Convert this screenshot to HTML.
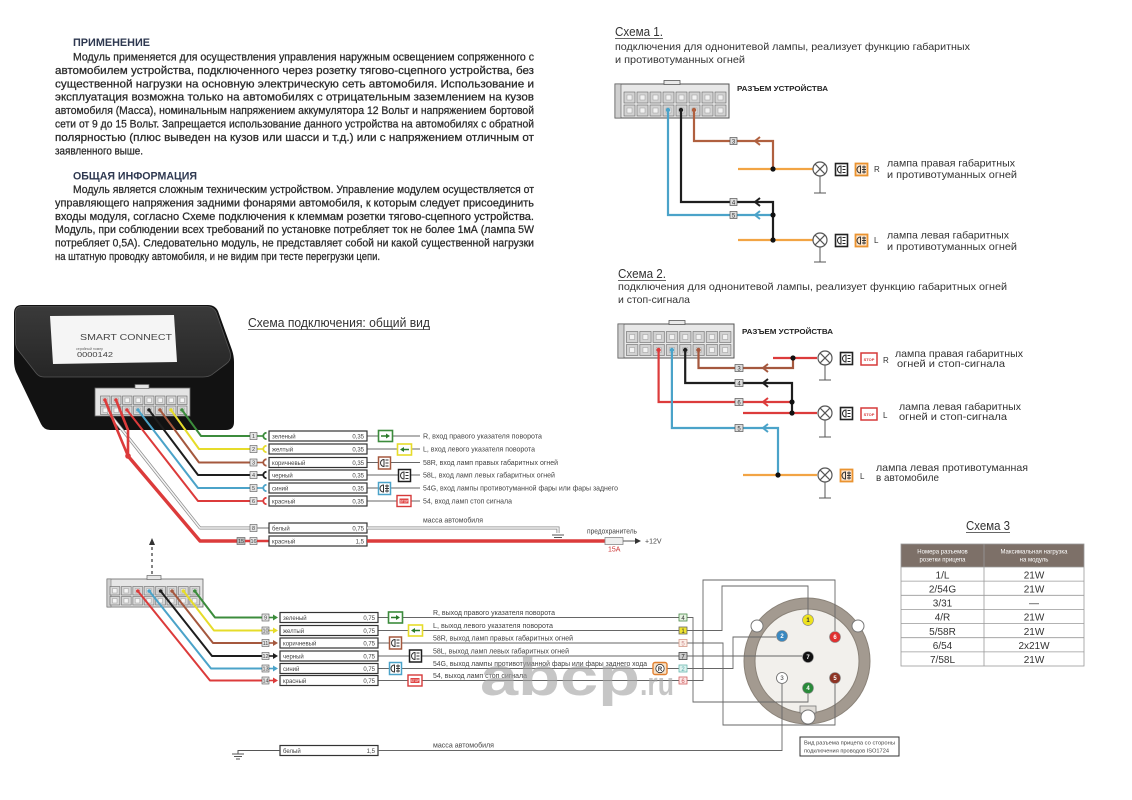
<!DOCTYPE html>
<html><head><meta charset="utf-8"><title>Smart Connect</title>
<style>
html,body{margin:0;padding:0;background:#fff;width:1132px;height:800px;overflow:hidden}
svg{display:block;font-family:"Liberation Sans","DejaVu Sans",sans-serif}
</style></head><body>
<svg width="1132" height="800" viewBox="0 0 1132 800" xmlns="http://www.w3.org/2000/svg">
<defs>
 <pattern id="c1" x="623.5" y="91.5" width="13" height="13" patternUnits="userSpaceOnUse">
  <rect x="0.5" y="0.5" width="11" height="11" fill="#d2d2d2" stroke="#666" stroke-width="0.6"/>
  <rect x="3.5" y="3.5" width="5" height="5" fill="#f2f2f2" stroke="#999" stroke-width="0.5"/>
 </pattern>
 <pattern id="c2" x="626" y="331" width="13.3" height="13" patternUnits="userSpaceOnUse">
  <rect x="0.5" y="0.5" width="11.3" height="11" fill="#d2d2d2" stroke="#666" stroke-width="0.6"/>
  <rect x="3.6" y="3.5" width="5" height="5" fill="#f2f2f2" stroke="#999" stroke-width="0.5"/>
 </pattern>
 <pattern id="c3" x="100" y="395.5" width="11" height="10" patternUnits="userSpaceOnUse">
  <rect x="0.5" y="0.5" width="9.5" height="8.5" fill="#d8d8d8" stroke="#666" stroke-width="0.6"/>
  <rect x="3" y="2.5" width="4.5" height="4.5" fill="#f4f4f4" stroke="#999" stroke-width="0.5"/>
 </pattern>
 <pattern id="c4" x="109.5" y="586" width="11.4" height="10" patternUnits="userSpaceOnUse">
  <rect x="0.5" y="0.5" width="9.8" height="8.5" fill="#d8d8d8" stroke="#666" stroke-width="0.6"/>
  <rect x="3" y="2.5" width="4.5" height="4.5" fill="#f4f4f4" stroke="#999" stroke-width="0.5"/>
 </pattern>
 <linearGradient id="topg" x1="0" y1="0" x2="0" y2="1">
  <stop offset="0" stop-color="#3a3a3a"/><stop offset="1" stop-color="#262626"/>
 </linearGradient>
 <g id="lamp"><circle r="7" fill="#fff" stroke="#555" stroke-width="1.2"/><path d="M-4.9,-4.9 L4.9,4.9 M-4.9,4.9 L4.9,-4.9" stroke="#555" stroke-width="1.2"/></g>
 <g id="side"><rect x="0.5" y="0.5" width="12" height="12" fill="#fff" stroke="currentColor" stroke-width="1.5"/><path d="M6,3 A3.5,3.5 0 0 0 6,10 Z" fill="none" stroke="#333" stroke-width="1"/><path d="M7.5,3.5 H10.5 M7.5,6.5 H10.5 M7.5,9.5 H10.5" stroke="#333" stroke-width="1"/></g>
 <g id="fog"><rect x="0.5" y="0.5" width="12" height="12" fill="#fff" stroke="currentColor" stroke-width="1.5"/><path d="M5.5,3 A3.5,3.5 0 0 0 5.5,10 Z" fill="none" stroke="#333" stroke-width="1"/><path d="M7,4 H11 M7,6.5 H11 M7,9 H11 M9,2.5 V10.5" stroke="#333" stroke-width="0.9"/></g>
 <g id="fogO"><rect x="0.5" y="0.5" width="12" height="12" fill="#fde7cf" stroke="#ea9330" stroke-width="1.8"/><path d="M5.5,3 A3.5,3.5 0 0 0 5.5,10 Z" fill="none" stroke="#333" stroke-width="1"/><path d="M7,4 H11 M7,6.5 H11 M7,9 H11 M9,2.5 V10.5" stroke="#333" stroke-width="0.9"/></g>
 <g id="sideK"><rect x="0.5" y="0.5" width="12" height="12" fill="#fff" stroke="#222" stroke-width="1.6"/><path d="M6,3 A3.5,3.5 0 0 0 6,10 Z" fill="none" stroke="#222" stroke-width="1"/><path d="M7.5,3.5 H10.5 M7.5,6.5 H10.5 M7.5,9.5 H10.5" stroke="#222" stroke-width="1"/></g>
 <g id="turnR"><rect x="0.5" y="0.5" width="14" height="11" fill="#fff" stroke="currentColor" stroke-width="1.6"/><path d="M3,6 H9" stroke="#2a7a2a" stroke-width="1.5"/><path d="M8,3.5 L12,6 L8,8.5 Z" fill="#2a7a2a"/></g>
 <g id="turnL"><rect x="0.5" y="0.5" width="14" height="11" fill="#fff" stroke="currentColor" stroke-width="1.6"/><path d="M6,6 H12" stroke="#2a7a2a" stroke-width="1.5"/><path d="M7,3.5 L3,6 L7,8.5 Z" fill="#2a7a2a"/></g>
 <path id="chev" d="M5,-4 L0,0 L5,4" fill="none" stroke="currentColor" stroke-width="2"/>
 <path id="cup" d="M3.5,-3.2 A3.2,3.2 0 0 0 3.5,3.2" fill="none" stroke="currentColor" stroke-width="1.8"/>
 <path id="tri" d="M0,-3 L5,0 L0,3 Z" fill="currentColor"/>
</defs>

<!-- ===== Top text ===== -->
<g font-size="11" fill="#2a2a2a" stroke="#2a2a2a" stroke-width="0.25">
<text x="73" y="46" font-weight="bold" fill="#2e3850" stroke="none" textLength="77" lengthAdjust="spacingAndGlyphs">ПРИМЕНЕНИЕ</text>
<text x="73" y="60.5" textLength="461" lengthAdjust="spacingAndGlyphs">Модуль применяется для осуществления управления наружным освещением сопряженного с</text>
<text x="55" y="73.9" textLength="479" lengthAdjust="spacingAndGlyphs">автомобилем устройства, подключенного через розетку тягово-сцепного устройства, без</text>
<text x="55" y="87.3" textLength="479" lengthAdjust="spacingAndGlyphs">существенной нагрузки на основную электрическую сеть автомобиля. Использование и</text>
<text x="55" y="100.7" textLength="479" lengthAdjust="spacingAndGlyphs">эксплуатация возможна только на автомобилях с отрицательным заземлением на кузов</text>
<text x="55" y="114.1" textLength="479" lengthAdjust="spacingAndGlyphs">автомобиля (Масса), номинальным напряжением аккумулятора 12 Вольт и напряжением бортовой</text>
<text x="55" y="127.5" textLength="479" lengthAdjust="spacingAndGlyphs">сети от 9 до 15 Вольт. Запрещается использование данного устройства на автомобилях с обратной</text>
<text x="55" y="140.9" textLength="479" lengthAdjust="spacingAndGlyphs">полярностью (плюс выведен на кузов или шасси и т.д.) или с напряжением отличным от</text>
<text x="55" y="154.3" textLength="88" lengthAdjust="spacingAndGlyphs">заявленного выше.</text>
<text x="73" y="179.5" font-weight="bold" fill="#2e3850" stroke="none" textLength="124" lengthAdjust="spacingAndGlyphs">ОБЩАЯ ИНФОРМАЦИЯ</text>
<text x="73" y="193" textLength="461" lengthAdjust="spacingAndGlyphs">Модуль является сложным техническим устройством. Управление модулем осуществляется от</text>
<text x="55" y="206.4" textLength="479" lengthAdjust="spacingAndGlyphs">управляющего напряжения задними фонарями автомобиля, к которым следует присоединить</text>
<text x="55" y="219.8" textLength="479" lengthAdjust="spacingAndGlyphs">входы модуля, согласно Схеме подключения к клеммам розетки тягово-сцепного устройства.</text>
<text x="55" y="233.2" textLength="479" lengthAdjust="spacingAndGlyphs">Модуль, при соблюдении всех требований по установке потребляет ток не более 1мА (лампа 5W</text>
<text x="55" y="246.6" textLength="479" lengthAdjust="spacingAndGlyphs">потребляет 0,5А). Следовательно модуль, не представляет собой ни какой существенной нагрузки</text>
<text x="55" y="260" textLength="325" lengthAdjust="spacingAndGlyphs">на штатную проводку автомобиля, и не видим при тесте перегрузки цепи.</text>
</g>

<!-- ===== Scheme 1 ===== -->
<g fill="#333">
<text x="615" y="36" font-size="13" textLength="48" lengthAdjust="spacingAndGlyphs">Схема 1.</text>
<line x1="615" y1="38.5" x2="663" y2="38.5" stroke="#333" stroke-width="0.8"/>
<text x="615" y="50" font-size="10.5" textLength="355" lengthAdjust="spacingAndGlyphs">подключения для однонитевой лампы, реализует функцию габаритных</text>
<text x="615" y="63" font-size="10.5" textLength="130" lengthAdjust="spacingAndGlyphs">и противотуманных огней</text>
</g>
<rect x="615" y="84" width="114" height="34" fill="#e8e8e8" stroke="#555" stroke-width="1"/>
<rect x="615" y="84" width="6" height="34" fill="#cfcfcf" stroke="#555" stroke-width="0.6"/>
<rect x="664" y="80.5" width="16" height="4" fill="#e8e8e8" stroke="#555" stroke-width="0.8"/>
<rect x="623.5" y="91.5" width="104" height="26" fill="url(#c1)"/>
<text x="737" y="91" font-size="7.5" font-weight="bold" fill="#222" textLength="91" lengthAdjust="spacingAndGlyphs">РАЗЪЕМ УСТРОЙСТВА</text>
<g fill="none" stroke-width="2.2" stroke-linejoin="miter">
 <path d="M694,110 V141 H730 M737,141 H773 V169" stroke="#b0603f"/>
 <path d="M681,110 V202 H730 M737,202 H773 V240" stroke="#1e1e1e"/>
 <path d="M668,110 V215 H730 M737,215 H773" stroke="#4ba3c9"/>
 <path d="M738,169 H813" stroke="#f2a444"/>
 <path d="M738,240 H813" stroke="#f2a444"/>
</g>
<circle cx="694" cy="110" r="2.2" fill="#b0603f"/><circle cx="681" cy="110" r="2.2" fill="#1e1e1e"/><circle cx="668" cy="110" r="2.2" fill="#4ba3c9"/>
<use href="#chev" x="755" y="141" style="color:#b0603f"/>
<use href="#chev" x="755" y="202" style="color:#1e1e1e"/>
<use href="#chev" x="755" y="215" style="color:#4ba3c9"/>
<g font-size="6" text-anchor="middle" fill="#333">
 <rect x="730" y="137.5" width="7" height="7" fill="#ddd" stroke="#555" stroke-width="0.7"/><text x="733.5" y="143.3">3</text>
 <rect x="730" y="198.5" width="7" height="7" fill="#ddd" stroke="#555" stroke-width="0.7"/><text x="733.5" y="204.3">4</text>
 <rect x="730" y="211.5" width="7" height="7" fill="#ddd" stroke="#555" stroke-width="0.7"/><text x="733.5" y="217.3">5</text>
</g>
<circle cx="773" cy="169" r="2.6" fill="#111"/><circle cx="773" cy="215" r="2.6" fill="#111"/><circle cx="773" cy="240" r="2.6" fill="#111"/>
<path d="M820,176 V193 M814,193 H826 M820,247 V262 M814,262 H826" stroke="#555" stroke-width="1"/>
<use href="#lamp" x="820" y="169"/><use href="#lamp" x="820" y="240"/>
<use href="#sideK" x="835" y="163"/><use href="#fogO" x="855" y="163"/>
<use href="#sideK" x="835" y="234"/><use href="#fogO" x="855" y="234"/>
<g fill="#333" font-size="10.5">
<text x="874" y="172" font-size="8">R</text>
<text x="887" y="166.5" textLength="128" lengthAdjust="spacingAndGlyphs">лампа правая габаритных</text>
<text x="887" y="178" textLength="130" lengthAdjust="spacingAndGlyphs">и противотуманных огней</text>
<text x="874" y="243" font-size="8">L</text>
<text x="887" y="238.5" textLength="122" lengthAdjust="spacingAndGlyphs">лампа левая габаритных</text>
<text x="887" y="250" textLength="130" lengthAdjust="spacingAndGlyphs">и противотуманных огней</text>
</g>

<!-- ===== Scheme 2 ===== -->
<g fill="#333">
<text x="618" y="278" font-size="13" textLength="48" lengthAdjust="spacingAndGlyphs">Схема 2.</text>
<line x1="618" y1="280.5" x2="666" y2="280.5" stroke="#333" stroke-width="0.8"/>
<text x="618" y="290" font-size="10.5" textLength="389" lengthAdjust="spacingAndGlyphs">подключения для однонитевой лампы, реализует функцию габаритных огней</text>
<text x="618" y="303" font-size="10.5" textLength="72" lengthAdjust="spacingAndGlyphs">и стоп-сигнала</text>
</g>
<rect x="618" y="324" width="116" height="34" fill="#e8e8e8" stroke="#555" stroke-width="1"/>
<rect x="618" y="324" width="6" height="34" fill="#cfcfcf" stroke="#555" stroke-width="0.6"/>
<rect x="669" y="320.5" width="16" height="4" fill="#e8e8e8" stroke="#555" stroke-width="0.8"/>
<rect x="626" y="331" width="106.4" height="26" fill="url(#c2)"/>
<text x="742" y="334" font-size="7.5" font-weight="bold" fill="#222" textLength="91" lengthAdjust="spacingAndGlyphs">РАЗЪЕМ УСТРОЙСТВА</text>
<g fill="none" stroke-width="2.2">
 <path d="M773,358 H817" stroke="#dc3b3b"/>
 <path d="M698.5,350 V368 H735 M743,368 H793 V358" stroke="#a5583e"/>
 <path d="M685.2,350 V383 H735 M743,383 H792 V413" stroke="#1e1e1e"/>
 <path d="M658.6,350 V402 H735 M743,402 H792" stroke="#dc3b3b"/>
 <path d="M743,413 H817" stroke="#dc3b3b"/>
 <path d="M671.9,350 V428 H735 M743,428 H778 V475" stroke="#4ba3c9"/>
 <path d="M743,475 H817" stroke="#f2a444"/>
</g>
<circle cx="698.5" cy="350" r="2.2" fill="#a5583e"/><circle cx="685.2" cy="350" r="2.2" fill="#1e1e1e"/><circle cx="658.6" cy="350" r="2.2" fill="#dc3b3b"/><circle cx="671.9" cy="350" r="2.2" fill="#4ba3c9"/>
<use href="#chev" x="763" y="368" style="color:#a5583e"/>
<use href="#chev" x="763" y="383" style="color:#1e1e1e"/>
<use href="#chev" x="763" y="402" style="color:#dc3b3b"/>
<use href="#chev" x="763" y="428" style="color:#4ba3c9"/>
<g font-size="6" text-anchor="middle" fill="#333">
 <rect x="735" y="364.5" width="8" height="7" fill="#ddd" stroke="#555" stroke-width="0.7"/><text x="739" y="370.3">3</text>
 <rect x="735" y="379.5" width="8" height="7" fill="#ddd" stroke="#555" stroke-width="0.7"/><text x="739" y="385.3">4</text>
 <rect x="735" y="398.5" width="8" height="7" fill="#ddd" stroke="#555" stroke-width="0.7"/><text x="739" y="404.3">6</text>
 <rect x="735" y="424.5" width="8" height="7" fill="#ddd" stroke="#555" stroke-width="0.7"/><text x="739" y="430.3">5</text>
</g>
<circle cx="793" cy="358" r="2.6" fill="#111"/><circle cx="792" cy="402" r="2.6" fill="#111"/><circle cx="792" cy="413" r="2.6" fill="#111"/><circle cx="778" cy="475" r="2.6" fill="#111"/>
<path d="M825,365 V380 M819,380 H831 M825,420 V437 M819,437 H831 M825,482 V498 M819,498 H831" stroke="#555" stroke-width="1"/>
<use href="#lamp" x="825" y="358"/><use href="#lamp" x="825" y="413"/><use href="#lamp" x="825" y="475"/>
<use href="#sideK" x="840" y="352"/><use href="#sideK" x="840" y="407"/><use href="#fogO" x="840" y="469"/>
<g><rect x="861" y="353" width="16" height="12" fill="#fff" stroke="#d63a3a" stroke-width="1.5"/><text x="869" y="361" font-size="4" fill="#d63a3a" text-anchor="middle" font-weight="bold">STOP</text></g>
<g><rect x="861" y="408" width="16" height="12" fill="#fff" stroke="#d63a3a" stroke-width="1.5"/><text x="869" y="416" font-size="4" fill="#d63a3a" text-anchor="middle" font-weight="bold">STOP</text></g>
<g fill="#333" font-size="10.5">
<text x="883" y="363" font-size="8">R</text>
<text x="895" y="357" textLength="128" lengthAdjust="spacingAndGlyphs">лампа правая габаритных</text>
<text x="897" y="367" textLength="108" lengthAdjust="spacingAndGlyphs">огней и стоп-сигнала</text>
<text x="883" y="418" font-size="8">L</text>
<text x="899" y="410" textLength="122" lengthAdjust="spacingAndGlyphs">лампа левая габаритных</text>
<text x="899" y="420" textLength="108" lengthAdjust="spacingAndGlyphs">огней и стоп-сигнала</text>
<text x="860" y="479" font-size="8">L</text>
<text x="876" y="471" textLength="152" lengthAdjust="spacingAndGlyphs">лампа левая противотуманная</text>
<text x="876" y="481" textLength="63" lengthAdjust="spacingAndGlyphs">в автомобиле</text>
</g>

<!-- ===== Main diagram title ===== -->
<text x="248" y="327" font-size="13" fill="#333" textLength="182" lengthAdjust="spacingAndGlyphs">Схема подключения: общий вид</text>
<line x1="248" y1="329.5" x2="430" y2="329.5" stroke="#333" stroke-width="0.8"/>

<!-- Device box -->
<path d="M22,305 H208 Q215,305 218,311 L232,350 Q234,356 234,362 V422 Q234,430 226,430 H50 Q44,430 41,424 L16,372 Q14,367 14,360 V313 Q14,305 22,305 Z" fill="#121212"/>
<path d="M22,306.5 H207 Q213,306.5 216,312 L230,352 Q232,360 226,364 L214,373 Q210,377 203,377 H44 Q39,377 36,373 L18,350 Q15.5,347 15.5,342 V313 Q15.5,306.5 22,306.5 Z" fill="url(#topg)" stroke="#555" stroke-width="0.8"/>
<polygon points="50,316 174,315 177,362 53,364" fill="#f5f5f5"/>
<text x="80" y="340" font-size="8.5" fill="#444" textLength="92" lengthAdjust="spacingAndGlyphs">SMART CONNECT</text>
<text x="76" y="350" font-size="3.5" fill="#666">серийный номер</text>
<text x="77" y="357" font-size="7" fill="#444" textLength="36" lengthAdjust="spacingAndGlyphs">0000142</text>
<rect x="95" y="388" width="95" height="28" fill="#e4e4e4" stroke="#666" stroke-width="0.8"/>
<rect x="135" y="384.5" width="14" height="4" fill="#e4e4e4" stroke="#666" stroke-width="0.7"/>
<rect x="100" y="395.5" width="88" height="20" fill="url(#c3)"/>

<!-- wires from device -->
<g fill="none" stroke-width="2" stroke-linejoin="round">
 <path d="M108,412 L200,528 H250" stroke="#888" stroke-width="3"/>
 <path d="M108,412 L200,528 H250" stroke="#f4f4f4" stroke-width="1.6"/>
 <path d="M182,410 L201,436 H250" stroke="#3c8c3c"/>
 <path d="M171,410 L199,449 H250" stroke="#e6dc2a"/>
 <path d="M160,410 L199,462.5 H250" stroke="#a5583e"/>
 <path d="M149,410 L198,475 H250" stroke="#1e1e1e"/>
 <path d="M138,410 L198,488 H250" stroke="#4ba3c9"/>
 <path d="M127,410 L198,501 H250" stroke="#dc3b3b"/>
 <path d="M105,400 L118,432 L128,456 M116,400 L128,430 L128,456" stroke="#dc3b3b" stroke-width="2.6"/>
 <path d="M128,456 L200,541 H237" stroke="#dc3b3b" stroke-width="3.4"/>
</g>
<circle cx="128" cy="456" r="2.8" fill="#dc3b3b"/>
<circle cx="182" cy="410" r="1.8" fill="#3c8c3c"/><circle cx="171" cy="410" r="1.8" fill="#e6dc2a"/><circle cx="160" cy="410" r="1.8" fill="#a5583e"/><circle cx="149" cy="410" r="1.8" fill="#1e1e1e"/><circle cx="138" cy="410" r="1.8" fill="#4ba3c9"/><circle cx="127" cy="410" r="1.8" fill="#dc3b3b"/><circle cx="105" cy="400" r="1.8" fill="#dc3b3b"/><circle cx="116" cy="400" r="1.8" fill="#dc3b3b"/>

<!-- upper rows -->
<g font-size="6" fill="#444">
 <g stroke-width="1.6">
  <path d="M257,436 H263" stroke="#3c8c3c"/><path d="M257,449 H263" stroke="#e6dc2a"/><path d="M257,462.5 H263" stroke="#a5583e"/><path d="M257,475 H263" stroke="#1e1e1e"/><path d="M257,488 H263" stroke="#4ba3c9"/><path d="M257,501 H263" stroke="#dc3b3b"/>
 </g>
 <use href="#cup" x="263" y="436" style="color:#3c8c3c"/><use href="#cup" x="263" y="449" style="color:#e6dc2a"/><use href="#cup" x="263" y="462.5" style="color:#a5583e"/><use href="#cup" x="263" y="475" style="color:#1e1e1e"/><use href="#cup" x="263" y="488" style="color:#4ba3c9"/><use href="#cup" x="263" y="501" style="color:#dc3b3b"/>
 <g text-anchor="middle" font-size="5.5">
  <rect x="250" y="432.5" width="7" height="7" fill="#e6e6e6" stroke="#555" stroke-width="0.6"/><text x="253.5" y="438.2">1</text>
  <rect x="250" y="445.5" width="7" height="7" fill="#e6e6e6" stroke="#555" stroke-width="0.6"/><text x="253.5" y="451.2">2</text>
  <rect x="250" y="459" width="7" height="7" fill="#e6e6e6" stroke="#555" stroke-width="0.6"/><text x="253.5" y="464.7">3</text>
  <rect x="250" y="471.5" width="7" height="7" fill="#e6e6e6" stroke="#555" stroke-width="0.6"/><text x="253.5" y="477.2">4</text>
  <rect x="250" y="484.5" width="7" height="7" fill="#e6e6e6" stroke="#555" stroke-width="0.6"/><text x="253.5" y="490.2">5</text>
  <rect x="250" y="497.5" width="7" height="7" fill="#e6e6e6" stroke="#555" stroke-width="0.6"/><text x="253.5" y="503.2">6</text>
  <rect x="250" y="524.5" width="7" height="7" fill="#e6e6e6" stroke="#555" stroke-width="0.6"/><text x="253.5" y="530.2">8</text>
  <rect x="237" y="537.5" width="8" height="7" fill="#bbb" stroke="#555" stroke-width="0.6"/><text x="241" y="543.2">15</text>
  <rect x="250" y="537.5" width="7" height="7" fill="#e6e6e6" stroke="#555" stroke-width="0.6"/><text x="253.5" y="543.2">16</text>
 </g>
 <path d="M245,541 H250 M257,541 H269" stroke="#dc3b3b" stroke-width="2.4"/>
 <path d="M257,528 H269" stroke="#888" stroke-width="1.2"/>
 <g stroke="#666" stroke-width="0.9">
  <path d="M367,436 H420 M367,449 H420 M367,462.5 H420 M367,475 H420 M367,488 H420 M367,501 H420"/>
 </g>
 <g fill="#fff" stroke="#333" stroke-width="1.2">
  <rect x="269" y="431" width="98" height="10"/><rect x="269" y="444" width="98" height="10"/><rect x="269" y="457.5" width="98" height="10"/><rect x="269" y="470" width="98" height="10"/><rect x="269" y="483" width="98" height="10"/><rect x="269" y="496" width="98" height="10"/><rect x="269" y="523" width="98" height="10"/><rect x="269" y="536" width="98" height="10"/>
 </g>
 <text x="272" y="438.3">зеленый</text><text x="364" y="438.3" text-anchor="end">0,35</text>
 <text x="272" y="451.3">желтый</text><text x="364" y="451.3" text-anchor="end">0,35</text>
 <text x="272" y="464.8">коричневый</text><text x="364" y="464.8" text-anchor="end">0,35</text>
 <text x="272" y="477.3">черный</text><text x="364" y="477.3" text-anchor="end">0,35</text>
 <text x="272" y="490.3">синий</text><text x="364" y="490.3" text-anchor="end">0,35</text>
 <text x="272" y="503.3">красный</text><text x="364" y="503.3" text-anchor="end">0,35</text>
 <text x="272" y="530.3">белый</text><text x="364" y="530.3" text-anchor="end">0,75</text>
 <text x="272" y="543.3">красный</text><text x="364" y="543.3" text-anchor="end">1,5</text>
</g>
<use href="#turnR" x="378" y="430" style="color:#3c8c3c"/>
<use href="#turnL" x="397" y="443.5" style="color:#e6dc2a"/>
<use href="#side" x="378" y="456.5" style="color:#a5583e"/>
<use href="#side" x="398" y="469" style="color:#1e1e1e"/>
<use href="#fog" x="378" y="482" style="color:#4ba3c9"/>
<g><rect x="397" y="495.5" width="14" height="11" fill="#fff" stroke="#d63a3a" stroke-width="1.4"/><rect x="399.5" y="498.5" width="9" height="5" fill="#e04545"/><text x="404" y="502.5" font-size="3.2" fill="#fff" text-anchor="middle">STOP</text></g>
<g font-size="7" fill="#444">
 <text x="423" y="438.5" textLength="119" lengthAdjust="spacingAndGlyphs">R, вход  правого указателя поворота</text>
 <text x="423" y="451.5" textLength="112" lengthAdjust="spacingAndGlyphs">L, вход левого указателя поворота</text>
 <text x="423" y="465" textLength="135" lengthAdjust="spacingAndGlyphs">58R, вход ламп правых габаритных огней</text>
 <text x="423" y="477.5" textLength="132" lengthAdjust="spacingAndGlyphs">58L, вход ламп  левых габаритных огней</text>
 <text x="423" y="490.5" textLength="195" lengthAdjust="spacingAndGlyphs">54G, вход лампы противотуманной фары или фары заднего</text>
 <text x="423" y="503.5" textLength="89" lengthAdjust="spacingAndGlyphs">54, вход ламп стоп сигнала</text>
 <text x="423" y="522.5" textLength="60" lengthAdjust="spacingAndGlyphs">масса автомобиля</text>
 <text x="587" y="533.5" textLength="50" lengthAdjust="spacingAndGlyphs">предохранитель</text>
 <text x="645" y="543.5">+12V</text>
 <text x="608" y="551.5" fill="#c33">15A</text>
</g>
<path d="M367,528 H558 V533" fill="none" stroke="#888" stroke-width="3"/>
<path d="M367,528 H558 V533" fill="none" stroke="#f4f4f4" stroke-width="1.5"/>
<path d="M552,535 H564 M554,537.5 H562 M556,540 H560" stroke="#555" stroke-width="1"/>
<path d="M367,541 H605" stroke="#dc3b3b" stroke-width="3.4"/>
<rect x="605" y="537.5" width="18" height="7" fill="#eee" stroke="#888" stroke-width="0.8"/>
<path d="M623,541 H636" stroke="#555" stroke-width="1"/>
<path d="M635,538 L641,541 L635,544 Z" fill="#333"/>

<!-- dashed arrow -->
<path d="M152,547 V576" stroke="#333" stroke-width="1.2" stroke-dasharray="3,3"/>
<path d="M149,545 L155,545 L152,538 Z" fill="#333"/>

<!-- lower connector -->
<rect x="107" y="579" width="96" height="28" fill="#e6e6e6" stroke="#666" stroke-width="0.8"/>
<rect x="107" y="579" width="4" height="28" fill="#d0d0d0" stroke="#666" stroke-width="0.5"/>
<rect x="147" y="575.5" width="14" height="4" fill="#e6e6e6" stroke="#666" stroke-width="0.7"/>
<rect x="109.5" y="586" width="91.2" height="20" fill="url(#c4)"/>
<g fill="none" stroke-width="2" stroke-linejoin="round">
 <path d="M194.8,591 L215,617.5 H262" stroke="#3c8c3c"/>
 <path d="M183.4,591 L214,630.5 H262" stroke="#e6dc2a"/>
 <path d="M172,591 L213,643 H262" stroke="#a5583e"/>
 <path d="M160.6,591 L212,656 H262" stroke="#1e1e1e"/>
 <path d="M149.2,591 L211,668.5 H262" stroke="#4ba3c9"/>
 <path d="M137.8,591 L210,680.5 H262" stroke="#dc3b3b"/>
</g>
<circle cx="194.8" cy="591" r="1.8" fill="#3c8c3c"/><circle cx="183.4" cy="591" r="1.8" fill="#e6dc2a"/><circle cx="172" cy="591" r="1.8" fill="#a5583e"/><circle cx="160.6" cy="591" r="1.8" fill="#1e1e1e"/><circle cx="149.2" cy="591" r="1.8" fill="#4ba3c9"/><circle cx="137.8" cy="591" r="1.8" fill="#dc3b3b"/>
<g stroke-width="1.6">
 <path d="M269,617.5 H273" stroke="#3c8c3c"/><path d="M269,630.5 H273" stroke="#e6dc2a"/><path d="M269,643 H273" stroke="#a5583e"/><path d="M269,656 H273" stroke="#1e1e1e"/><path d="M269,668.5 H273" stroke="#4ba3c9"/><path d="M269,680.5 H273" stroke="#dc3b3b"/>
</g>
<use href="#tri" x="273" y="617.5" style="color:#3c8c3c"/><use href="#tri" x="273" y="630.5" style="color:#e6dc2a"/><use href="#tri" x="273" y="643" style="color:#a5583e"/><use href="#tri" x="273" y="656" style="color:#1e1e1e"/><use href="#tri" x="273" y="668.5" style="color:#4ba3c9"/><use href="#tri" x="273" y="680.5" style="color:#dc3b3b"/>
<g text-anchor="middle" font-size="5.5" fill="#444">
 <rect x="262" y="614" width="7" height="7" fill="#e6e6e6" stroke="#555" stroke-width="0.6"/><text x="265.5" y="619.7">9</text>
 <rect x="262" y="627" width="7" height="7" fill="#e6e6e6" stroke="#555" stroke-width="0.6"/><text x="265.5" y="632.7">10</text>
 <rect x="262" y="639.5" width="7" height="7" fill="#e6e6e6" stroke="#555" stroke-width="0.6"/><text x="265.5" y="645.2">11</text>
 <rect x="262" y="652.5" width="7" height="7" fill="#e6e6e6" stroke="#555" stroke-width="0.6"/><text x="265.5" y="658.2">12</text>
 <rect x="262" y="665" width="7" height="7" fill="#e6e6e6" stroke="#555" stroke-width="0.6"/><text x="265.5" y="670.7">13</text>
 <rect x="262" y="677" width="7" height="7" fill="#e6e6e6" stroke="#555" stroke-width="0.6"/><text x="265.5" y="682.7">14</text>
</g>
<g fill="none" stroke="#666" stroke-width="0.9">
 <path d="M378,617.5 H679 M378,630.5 H679 M378,643 H679 M378,656 H679 M378,668.5 H679 M378,680.5 H679"/>
</g>
<g fill="#fff" stroke="#333" stroke-width="1.2">
 <rect x="280" y="612.5" width="98" height="10"/><rect x="280" y="625.5" width="98" height="10"/><rect x="280" y="638" width="98" height="10"/><rect x="280" y="651" width="98" height="10"/><rect x="280" y="663.5" width="98" height="10"/><rect x="280" y="675.5" width="98" height="10"/><rect x="280" y="745.5" width="98" height="10"/>
</g>
<g font-size="6" fill="#444">
 <text x="283" y="619.8">зеленый</text><text x="375" y="619.8" text-anchor="end">0,75</text>
 <text x="283" y="632.8">желтый</text><text x="375" y="632.8" text-anchor="end">0,75</text>
 <text x="283" y="645.3">коричневый</text><text x="375" y="645.3" text-anchor="end">0,75</text>
 <text x="283" y="658.3">черный</text><text x="375" y="658.3" text-anchor="end">0,75</text>
 <text x="283" y="670.8">синий</text><text x="375" y="670.8" text-anchor="end">0,75</text>
 <text x="283" y="682.8">красный</text><text x="375" y="682.8" text-anchor="end">0,75</text>
 <text x="283" y="752.8">белый</text><text x="375" y="752.8" text-anchor="end">1,5</text>
</g>
<use href="#turnR" x="388" y="611.5" style="color:#3c8c3c"/>
<use href="#turnL" x="408" y="624.5" style="color:#e6dc2a"/>
<use href="#side" x="389" y="636.5" style="color:#a5583e"/>
<use href="#side" x="409" y="649.5" style="color:#1e1e1e"/>
<use href="#fog" x="389" y="662" style="color:#4ba3c9"/>
<g><rect x="408" y="675" width="14" height="11" fill="#fff" stroke="#d63a3a" stroke-width="1.4"/><rect x="410.5" y="678" width="9" height="5" fill="#e04545"/><text x="415" y="682" font-size="3.2" fill="#fff" text-anchor="middle">STOP</text></g>

<g font-size="7" fill="#444">
 <text x="433" y="615" textLength="122" lengthAdjust="spacingAndGlyphs">R, выход правого указателя поворота</text>
 <text x="433" y="628" textLength="120" lengthAdjust="spacingAndGlyphs">L, выход  левого указателя поворота</text>
 <text x="433" y="640.5" textLength="140" lengthAdjust="spacingAndGlyphs">58R, выход ламп правых габаритных огней</text>
 <text x="433" y="653.5" textLength="136" lengthAdjust="spacingAndGlyphs">58L, выход ламп левых габаритных огней</text>
 <text x="433" y="666" textLength="214" lengthAdjust="spacingAndGlyphs">54G, выход лампы противотуманной фары или фары заднего хода</text>
 <text x="433" y="678" textLength="94" lengthAdjust="spacingAndGlyphs">54, выход ламп стоп сигнала</text>
 <text x="433" y="747.5" textLength="61" lengthAdjust="spacingAndGlyphs">масса автомобиля</text>
</g>

<!-- watermark -->
<g fill="#a4a4a4" opacity="0.62" font-weight="bold">
 <text x="480" y="695" font-size="54" textLength="160" lengthAdjust="spacingAndGlyphs">abcp</text>
 <text x="640" y="695" font-size="32" textLength="34" lengthAdjust="spacingAndGlyphs">.ru</text>
</g>

<g><rect x="653" y="662.5" width="14" height="12" rx="2" fill="#f8e2c8" stroke="#e08030" stroke-width="1.4"/><circle cx="660" cy="668.5" r="4.2" fill="#fff" stroke="#333" stroke-width="0.8"/><text x="660" y="670.8" font-size="6" text-anchor="middle" fill="#333" font-weight="bold">R</text></g>

<!-- ground lower -->
<path d="M280,750.5 H238 V754 M232,754 H244 M234,756.5 H242 M236,759 H240" fill="none" stroke="#555" stroke-width="1"/>

<!-- round connector -->
<circle cx="807" cy="661" r="63" fill="#a39a90" stroke="#8a8278" stroke-width="1"/>
<circle cx="807" cy="661" r="52" fill="#f2f0ec" stroke="#8a8278" stroke-width="1"/>
<circle cx="757" cy="626" r="6" fill="#fff" stroke="#777" stroke-width="1"/>
<circle cx="858" cy="626" r="6" fill="#fff" stroke="#777" stroke-width="1"/>
<rect x="800" y="706" width="16" height="7" fill="#e0ddd8" stroke="#777" stroke-width="0.8"/>
<circle cx="808" cy="717" r="7" fill="#fff" stroke="#777" stroke-width="1"/>

<g fill="none" stroke="#666" stroke-width="0.9">
 <path d="M687,617.5 H693 V702 H808 V694"/>
 <path d="M687,630.5 H722 V586 H808 V626"/>
 <path d="M687,643 H723 V725 H835 V684"/>
 <path d="M687,656 H802"/>
 <path d="M687,668.5 H733 V637 H776"/>
 <path d="M687,680.5 H703 V580 H835 V631"/>
 <path d="M378,750.5 H782 V684"/>
</g>
<g font-size="6" text-anchor="middle">
 <rect x="679" y="614" width="8" height="7" fill="#e6f3e2" stroke="#4a8a4a" stroke-width="0.8"/><text x="683" y="619.8" fill="#333">4</text>
 <rect x="679" y="627" width="8" height="7" fill="#efe430" stroke="#666" stroke-width="0.8"/><text x="683" y="632.8" fill="#333">1</text>
 <rect x="679" y="639.5" width="8" height="7" fill="#fcefe8" stroke="#d49a88" stroke-width="0.8"/><text x="683" y="645.3" fill="#c88">5</text>
 <rect x="679" y="652.5" width="8" height="7" fill="#ccc" stroke="#444" stroke-width="0.8"/><text x="683" y="658.3" fill="#222">7</text>
 <rect x="679" y="665" width="8" height="7" fill="#def3ef" stroke="#6bb8b0" stroke-width="0.8"/><text x="683" y="670.8" fill="#5aa">2</text>
 <rect x="679" y="677" width="8" height="7" fill="#fde8e8" stroke="#d06060" stroke-width="0.8"/><text x="683" y="682.8" fill="#c55">6</text>
</g>
<g font-size="6" text-anchor="middle" font-weight="bold">
 <circle cx="808" cy="620" r="5.5" fill="#eee21e" stroke="#888" stroke-width="0.6"/><text x="808" y="622.2" fill="#333">1</text>
 <circle cx="835" cy="637" r="5.5" fill="#e03030" stroke="#888" stroke-width="0.6"/><text x="835" y="639.2" fill="#fff">6</text>
 <circle cx="782" cy="636" r="5.5" fill="#3a88c0" stroke="#888" stroke-width="0.6"/><text x="782" y="638.2" fill="#fff">2</text>
 <circle cx="808" cy="657" r="5.5" fill="#111" stroke="#888" stroke-width="0.6"/><text x="808" y="659.2" fill="#fff">7</text>
 <circle cx="782" cy="678" r="5.5" fill="#fff" stroke="#666" stroke-width="0.8"/><text x="782" y="680.2" fill="#333" font-weight="normal">3</text>
 <circle cx="835" cy="678" r="5.5" fill="#8e3424" stroke="#888" stroke-width="0.6"/><text x="835" y="680.2" fill="#fff">5</text>
 <circle cx="808" cy="688" r="5.5" fill="#2a8a3a" stroke="#888" stroke-width="0.6"/><text x="808" y="690.2" fill="#fff">4</text>
</g>
<rect x="800" y="737" width="99" height="19" fill="#fff" stroke="#333" stroke-width="1"/>
<text x="804" y="744.5" font-size="5.5" fill="#444" textLength="91" lengthAdjust="spacingAndGlyphs">Вид разъема прицепа со стороны</text>
<text x="804" y="752.5" font-size="5.5" fill="#444" textLength="85" lengthAdjust="spacingAndGlyphs">подключения проводов ISO1724</text>

<!-- ===== Scheme 3 table ===== -->
<text x="966" y="530" font-size="13" fill="#333" textLength="44" lengthAdjust="spacingAndGlyphs">Схема 3</text>
<line x1="966" y1="532.5" x2="1010" y2="532.5" stroke="#333" stroke-width="0.8"/>
<rect x="901" y="544" width="183" height="23" fill="#7d7068"/>
<g font-size="6" fill="#fff" text-anchor="middle">
 <text x="942.5" y="553.5">Номера разъемов</text><text x="942.5" y="561.5">розетки прицепа</text>
 <text x="1034" y="553.5">Максимальная нагрузка</text><text x="1034" y="561.5">на модуль</text>
</g>
<g fill="none" stroke="#999" stroke-width="0.8">
 <rect x="901" y="544" width="183" height="122"/>
 <path d="M984,544 V666 M901,567 H1084 M901,581.1 H1084 M901,595.3 H1084 M901,609.4 H1084 M901,623.6 H1084 M901,637.7 H1084 M901,651.9 H1084"/>
</g>
<g font-size="10" fill="#333" text-anchor="middle">
 <text x="942.5" y="578.3">1/L</text><text x="1034" y="578.3">21W</text>
 <text x="942.5" y="592.4">2/54G</text><text x="1034" y="592.4">21W</text>
 <text x="942.5" y="606.6">3/31</text><text x="1034" y="606.6">—</text>
 <text x="942.5" y="620.7">4/R</text><text x="1034" y="620.7">21W</text>
 <text x="942.5" y="634.9">5/58R</text><text x="1034" y="634.9">21W</text>
 <text x="942.5" y="649">6/54</text><text x="1034" y="649">2x21W</text>
 <text x="942.5" y="663.2">7/58L</text><text x="1034" y="663.2">21W</text>
</g>
</svg>
</body></html>
